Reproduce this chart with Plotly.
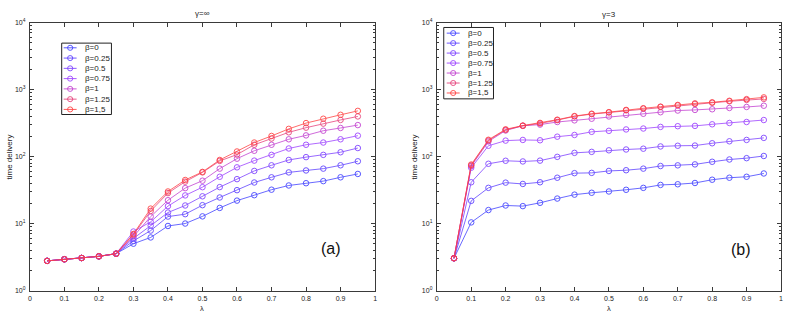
import plotly.graph_objects as go

# ---------------- data ----------------
lam = [0.05, 0.10, 0.15, 0.20, 0.25, 0.30, 0.35, 0.40, 0.45, 0.50,
       0.55, 0.60, 0.65, 0.70, 0.75, 0.80, 0.85, 0.90, 0.95]

beta_labels = ["β=0", "β=0.25", "β=0.5", "β=0.75", "β=1", "β=1.25", "β=1,5"]

# panel (a): gamma = infinity
a_b0 = [2.77, 2.93, 3.06, 3.24, 3.55, 5.0, 6.2, 9.2, 10.0, 12.8, 17.1, 22.0, 26.5, 32.0, 37.0, 40.0, 43.0, 49.0, 55.0]
a_b025 = [2.77, 2.93, 3.06, 3.24, 3.55, 5.5, 7.85, 12.7, 13.8, 18.8, 24.5, 31.5, 41.0, 49.0, 58.0, 62.0, 66.0, 74.0, 85.0]
a_b05 = [2.77, 2.93, 3.06, 3.24, 3.55, 6.0, 9.3, 14.6, 18.6, 25.5, 35.0, 46.0, 61.0, 74.0, 89.0, 98.0, 106.0, 116.0, 134.0]
a_b075 = [2.77, 2.93, 3.06, 3.24, 3.55, 7.6, 10.6, 18.2, 26.3, 34.9, 49.9, 69.0, 87.0, 106.0, 132.0, 150.0, 162.0, 181.0, 205.0]
a_b1 = [2.77, 2.93, 3.06, 3.24, 3.55, 6.4, 12.7, 22.3, 33.8, 43.6, 66.0, 93.0, 122.0, 150.0, 181.0, 207.0, 243.0, 267.0, 295.0]
a_b125 = [2.77, 2.93, 3.06, 3.24, 3.55, 6.8, 15.4, 28.5, 42.2, 58.0, 86.0, 107.0, 150.0, 186.0, 230.0, 270.0, 310.0, 352.0, 397.0]
a_b15 = [2.77, 2.93, 3.06, 3.24, 3.55, 7.0, 16.7, 30.1, 44.7, 59.0, 89.0, 119.0, 162.0, 203.0, 259.0, 316.0, 367.0, 420.0, 481.0]

# panel (b): gamma = 3
b_b0 = [3.03, 10.4, 15.9, 18.6, 18.2, 20.4, 23.6, 27.0, 28.8, 30.1, 31.9, 34.1, 37.7, 38.6, 40.3, 45.1, 48.3, 49.9, 55.9]
b_b025 = [3.03, 21.8, 34.1, 40.8, 39.0, 41.3, 48.3, 56.5, 57.1, 61.0, 62.5, 66.0, 72.2, 73.9, 76.4, 83.6, 90.4, 94.6, 102.0]
b_b05 = [3.03, 41.3, 78.0, 86.5, 84.5, 87.0, 99.0, 113.5, 117.5, 124.0, 127.5, 131.0, 141.6, 145.0, 146.0, 158.0, 169.0, 177.0, 190.0]
b_b075 = [3.03, 68.0, 145.0, 173.0, 177.0, 175.0, 198.0, 210.0, 234.0, 242.0, 254.0, 262.0, 277.0, 284.0, 287.0, 303.0, 317.0, 328.0, 351.0]
b_b1 = [3.03, 72.0, 168.0, 245.0, 288.0, 300.0, 328.0, 347.0, 367.0, 397.0, 420.0, 435.0, 459.0, 486.0, 497.0, 508.0, 531.0, 550.0, 574.0]
b_b125 = [3.03, 74.0, 174.0, 250.0, 288.0, 312.0, 350.0, 398.0, 430.0, 455.0, 490.0, 520.0, 550.0, 580.0, 610.0, 635.0, 668.0, 700.0, 725.0]
b_b15 = [3.03, 76.0, 178.0, 255.0, 290.0, 318.0, 355.0, 402.0, 436.0, 460.0, 497.0, 526.0, 556.0, 590.0, 622.0, 645.0, 680.0, 720.0, 765.0]

x_ticks = [0, 0.1, 0.2, 0.3, 0.4, 0.5, 0.6, 0.7, 0.8, 0.9, 1]
y_tickvals = [1, 10, 100, 1000, 10000]
y_ticktext = ["10<sup>0</sup>", "10<sup>1</sup>", "10<sup>2</sup>", "10<sup>3</sup>", "10<sup>4</sup>"]

series_a = [a_b0, a_b025, a_b05, a_b075, a_b1, a_b125, a_b15]
series_b = [b_b0, b_b025, b_b05, b_b075, b_b1, b_b125, b_b15]

colors = ["#3d3dff", "#5a3dff", "#7a3dff", "#9a3dff", "#c23dd0", "#e63d78", "#ff3d3d"]

# ---------------- figure ----------------
W, H = 789, 317
FONT = "Liberation Sans, Arial, sans-serif"


def px(x):
    return x / W


def py(y):
    return 1 - y / H


fig = go.Figure()

for vals, col, lab in zip(series_a, colors, beta_labels):
    fig.add_trace(go.Scatter(
        x=lam, y=vals, xaxis="x", yaxis="y", mode="lines+markers", name=lab,
        showlegend=False, opacity=0.85,
        line=dict(color=col, width=0.9),
        marker=dict(symbol="circle-open", size=5.5, color=col, line=dict(width=1, color=col)),
    ))

for vals, col, lab in zip(series_b, colors, beta_labels):
    fig.add_trace(go.Scatter(
        x=lam, y=vals, xaxis="x2", yaxis="y2", mode="lines+markers", name=lab,
        showlegend=False, opacity=0.85,
        line=dict(color=col, width=0.9),
        marker=dict(symbol="circle-open", size=5.5, color=col, line=dict(width=1, color=col)),
    ))

minor_vals = [m * 10 ** k for k in range(4) for m in range(2, 10)]
axcol = "#3a3a3a"

xcommon = dict(range=[0, 1], tickvals=x_ticks, ticks="inside", ticklen=4, tickcolor=axcol,
               showline=True, linecolor=axcol, linewidth=1, mirror="ticks",
               showgrid=False, zeroline=False, tickfont=dict(size=7, color="#222"),
               ticklabelstandoff=1)
ycommon = dict(type="log", range=[0, 4], tickvals=y_tickvals, ticktext=y_ticktext,
               ticks="inside", ticklen=4, tickcolor=axcol,
               showline=True, linecolor=axcol, linewidth=1, mirror="ticks",
               showgrid=False, zeroline=False, tickfont=dict(size=7, color="#222"),
               ticklabelstandoff=2,
               minor=dict(tickvals=minor_vals, ticks="inside", ticklen=2, tickcolor=axcol, showgrid=False))

yd = [py(293), py(19)]
fig.update_layout(
    width=W, height=H,
    margin=dict(l=0, r=0, t=0, b=0),
    paper_bgcolor="white", plot_bgcolor="white",
    font=dict(family=FONT, color="#222"),
    xaxis=dict(domain=[px(28), px(375)], anchor="y", **xcommon),
    yaxis=dict(domain=yd, anchor="x", **ycommon),
    xaxis2=dict(domain=[px(437), px(783)], anchor="y2", **xcommon),
    yaxis2=dict(domain=yd, anchor="x2", **ycommon),
    showlegend=False,
)

ann = []
shapes = []
# titles and axis labels
ann.append(dict(text="γ=∞", x=px(202), y=py(10), xref="paper", yref="paper", showarrow=False,
                font=dict(size=8), xanchor="center", yanchor="middle"))
ann.append(dict(text="γ=3", x=px(610), y=py(11), xref="paper", yref="paper", showarrow=False,
                font=dict(size=8), xanchor="center", yanchor="middle"))
for xc in (px(201), px(610)):
    ann.append(dict(text="λ", x=xc, y=py(311), xref="paper", yref="paper", showarrow=False,
                    font=dict(size=7.5), xanchor="center", yanchor="middle"))
for xc in (px(8), px(415)):
    ann.append(dict(text="time delivery", x=xc, y=py(156), xref="paper", yref="paper", showarrow=False,
                    font=dict(size=8), textangle=-90, xanchor="center", yanchor="middle"))
ann.append(dict(text="(a)", x=px(331), y=py(250), xref="paper", yref="paper", showarrow=False,
                font=dict(size=16, color="#111"), xanchor="center", yanchor="middle"))
ann.append(dict(text="(b)", x=px(743), y=py(251), xref="paper", yref="paper", showarrow=False,
                font=dict(size=16, color="#111"), xanchor="center", yanchor="middle"))

# legend boxes (drawn as layout decorations)
legends = [
    dict(box=(60, 40, 110, 113), y0=44.8, dy=10.5, lx0=62, lx1=75, cx=68.5, tx=81),
    dict(box=(444, 24, 494, 97), y0=29.8, dy=10.2, lx0=447, lx1=460, cx=453.5, tx=466),
]
for lg in legends:
    bx0, by0, bx1, by1 = lg["box"]
    shapes.append(dict(type="rect", xref="paper", yref="paper", x0=px(bx0), x1=px(bx1),
                       y0=py(by0), y1=py(by1), line=dict(color="#222", width=1), fillcolor="white"))
    for i, (lab, col) in enumerate(zip(beta_labels, colors)):
        yy = lg["y0"] + i * lg["dy"]
        shapes.append(dict(type="line", xref="paper", yref="paper", x0=px(lg["lx0"]), x1=px(lg["lx1"]),
                           y0=py(yy), y1=py(yy), line=dict(color=col, width=1), opacity=0.85))
        r = 2.6
        shapes.append(dict(type="circle", xref="paper", yref="paper", x0=px(lg["cx"] - r), x1=px(lg["cx"] + r),
                           y0=py(yy + r), y1=py(yy - r), line=dict(color=col, width=1), opacity=0.85,
                           fillcolor="rgba(0,0,0,0)"))
        ann.append(dict(text=lab, x=px(lg["tx"]), y=py(yy), xref="paper", yref="paper", showarrow=False,
                        font=dict(size=8, color="#222"), xanchor="left", yanchor="middle"))

fig.update_layout(annotations=ann, shapes=shapes)
fig.write_html("out.html", config={"displayModeBar": False},
               post_script="document.body.style.margin='0';document.body.style.overflow='hidden';")
